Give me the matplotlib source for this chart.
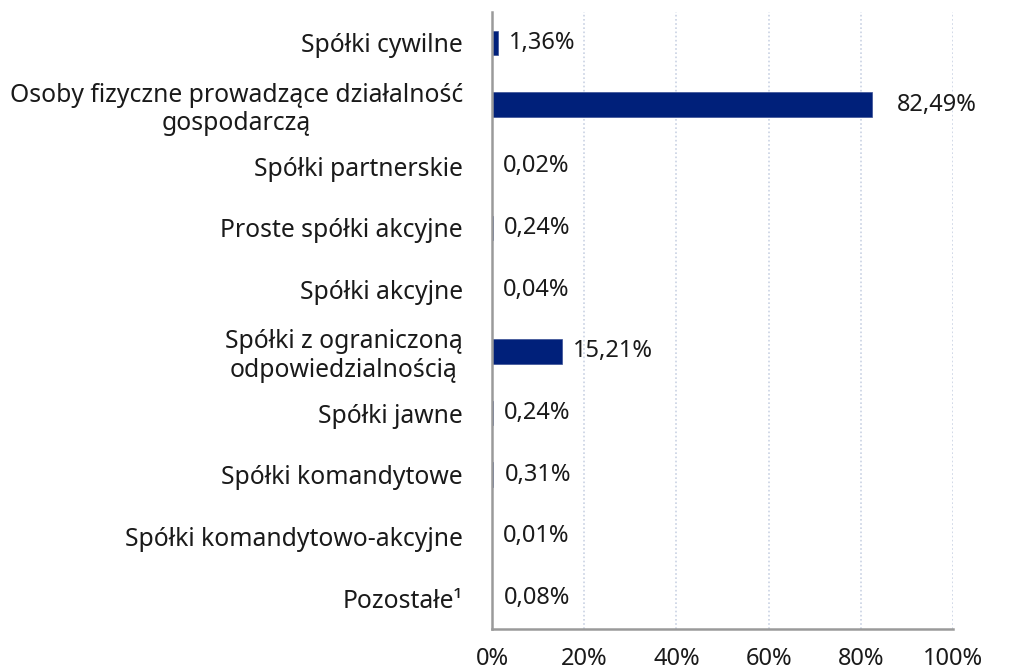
import matplotlib
matplotlib.use("Agg")
import matplotlib.pyplot as plt
from matplotlib.ticker import FixedLocator, FuncFormatter

plt.rcParams['font.family'] = ['Noto Sans', 'DejaVu Sans']

categories = [
    "Spółki cywilne",
    "Osoby fizyczne prowadzące działalność\ngospodarczą",
    "Spółki partnerskie",
    "Proste spółki akcyjne",
    "Spółki akcyjne",
    "Spółki z ograniczoną\nodpowiedzialnością",
    "Spółki jawne",
    "Spółki komandytowe",
    "Spółki komandytowo-akcyjne",
    "Pozostałe¹",
]
values = [1.36, 82.49, 0.02, 0.24, 0.04, 15.21, 0.24, 0.31, 0.01, 0.08]
x_ticks = [0, 20, 40, 60, 80, 100]

bar_color = "#00207A"
grid_color = "#C9D2E3"
spine_color = "#9A9A9A"
text_color = "#1a1a1a"
fs = 17

fig = plt.figure(figsize=(10.19, 6.70), dpi=100)
ax = fig.add_axes([492/1019, 1-629/670, (953-492)/1019, (629-12)/670])

ypos = list(range(len(categories)))
ax.barh(ypos, values, height=0.4, color=bar_color, edgecolor="#3A4F94", linewidth=0.5, zorder=3)

ax.set_xlim(0, 100)
ax.set_ylim(len(categories) - 0.5, -0.5)

ax.set_yticks(ypos)
ax.set_yticklabels(categories, fontsize=17.8, color=text_color, multialignment="center",
                   linespacing=1.2)
ax.xaxis.set_major_locator(FixedLocator(x_ticks))
ax.xaxis.set_major_formatter(FuncFormatter(lambda v, p: f"{int(v)}%"))
ax.tick_params(axis='x', length=0, pad=13, labelsize=fs, colors=text_color)
ax.tick_params(axis='y', length=0, pad=21)

ax.grid(axis='x', linestyle=(0, (1, 1.5)), color=grid_color, linewidth=1.2, zorder=0)
ax.grid(axis='y', visible=False)

for s in ['top', 'right']:
    ax.spines[s].set_visible(False)
for s in ['left', 'bottom']:
    ax.spines[s].set_color(spine_color)
    ax.spines[s].set_linewidth(1.8)
ax.spines['left'].set_zorder(4)

for y, v in zip(ypos, values):
    off = 18 if v > 50 else 8
    ax.annotate(f"{v:.2f}%".replace(".", ","), xy=(v, y), xytext=(off, 0),
                textcoords="offset points", ha="left", va="center",
                fontsize=fs, color=text_color, zorder=5)

fig.savefig("out.png", dpi=100)
